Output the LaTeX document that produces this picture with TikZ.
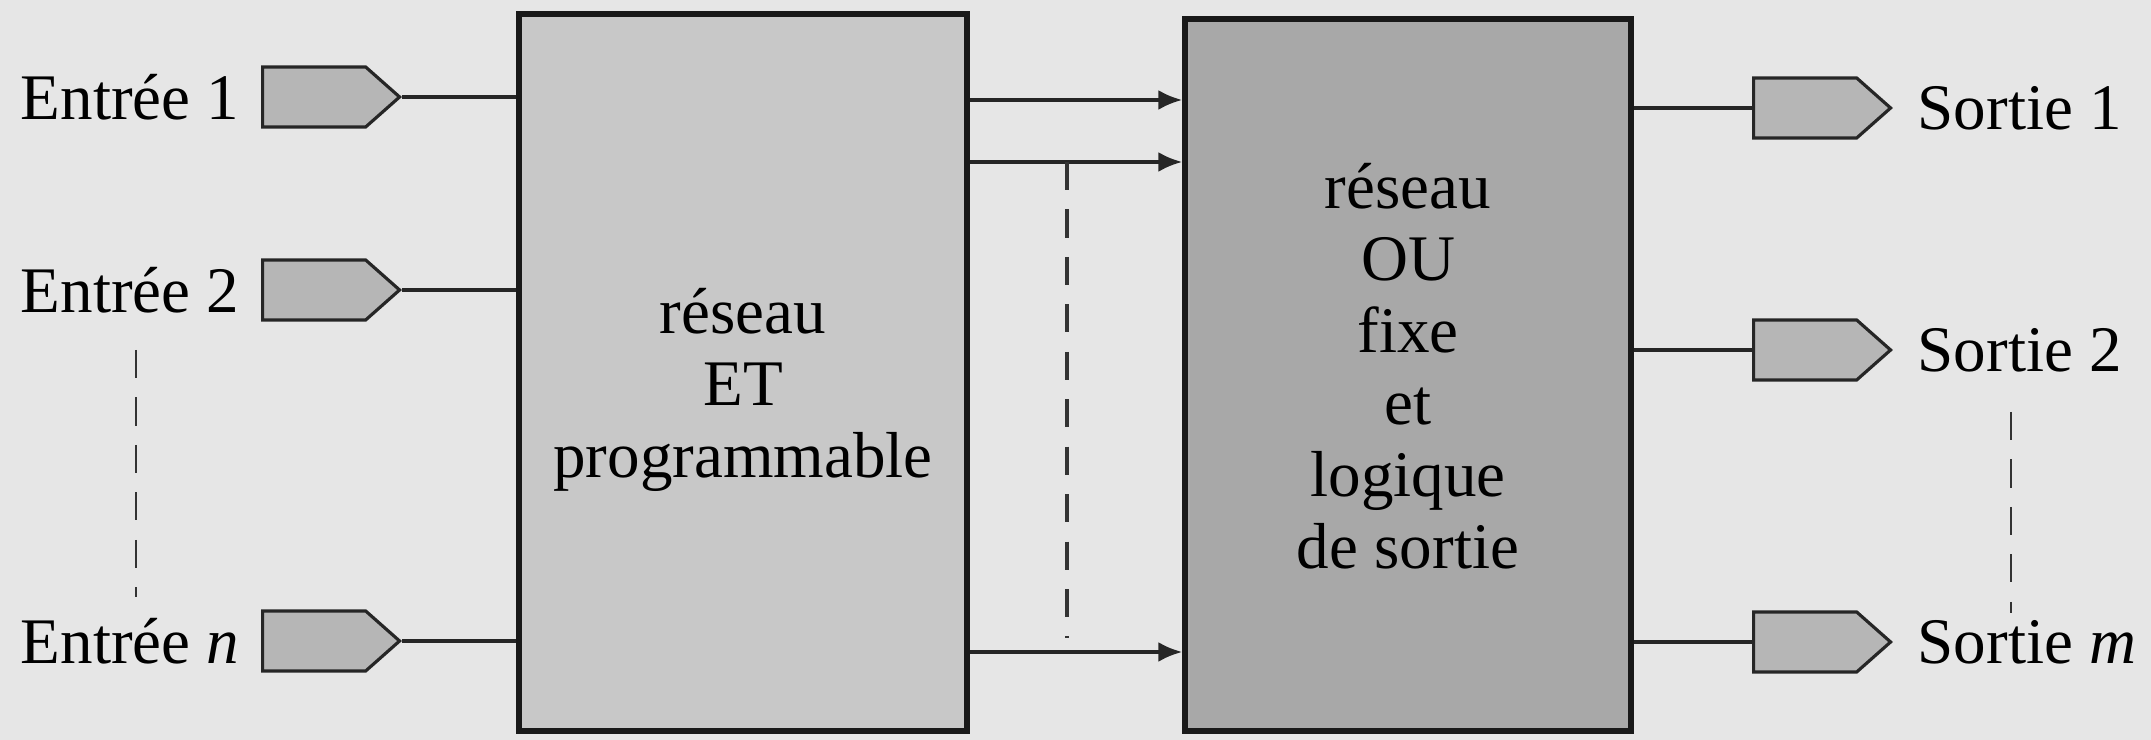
\documentclass[tikz,border=0pt]{standalone}
\usepackage{fontspec}
\setmainfont{Liberation Serif}
\usetikzlibrary{positioning,arrows.meta,shapes.symbols}
\definecolor{paper}{HTML}{E6E6E6}
\definecolor{andgray}{HTML}{C8C8C8}
\definecolor{orgray}{HTML}{A8A8A8}
\definecolor{pingray}{HTML}{B6B6B6}

\begin{document}
\begin{tikzpicture}[
    x=1cm, y=1cm,
    font=\fontsize{18.5}{20.5}\selectfont,
    block/.style={draw=black!90, line width=1.5pt, inner sep=0pt},
    pin/.style={signal, signal to=east, signal pointer angle=83, draw=black!85, line width=0.9pt, fill=pingray, minimum width=1.37cm, minimum height=0.6cm, inner sep=0pt, anchor=west},
    wire/.style={line width=1.1pt, draw=black!85},
    arrow/.style={wire, -{Latex[length=2.4mm,width=2mm]}},
    dots/.style={line width=0.8pt, draw=black!80, dash pattern=on 8pt off 5.5pt},
    tag/.style={inner sep=0pt}
  ]
    \fill[paper] (0,0) rectangle (21.51,7.40);
    \useasboundingbox (0,0) rectangle (21.51,7.40);

    % the two arrays
    \node[block, fill=andgray, minimum width=4.48cm, minimum height=7.17cm] (andbox) at (7.43,3.675) {};
    \node[block, fill=orgray, minimum width=4.46cm, minimum height=7.12cm] (orbox) at (14.08,3.65) {};
    \node[align=center] (andtxt) at (7.43,3.50) {réseau\\ET\\programmable};
    \node[align=center] (ortxt) at (14.08,3.74) {réseau\\OU\\fixe\\et\\logique\\de sortie};

    % inputs
    \node[pin] (in1) at (2.61,6.43) {};
    \node[pin] (in2) at (2.61,4.50) {};
    \node[pin] (inn) at (2.61,0.99) {};
    \node[tag, left=0.21cm of in1] (lin1) {Entrée 1};
    \node[tag, left=0.21cm of in2] (lin2) {Entrée 2};
    \node[tag, left=0.21cm of inn] (linn) {Entrée \textit{n}};

    % outputs
    \node[pin] (out1) at (17.52,6.32) {};
    \node[pin] (out2) at (17.52,3.90) {};
    \node[pin] (outm) at (17.52,0.98) {};
    \node[tag, right=0.24cm of out1] (lout1) {Sortie 1};
    \node[tag, right=0.24cm of out2] (lout2) {Sortie 2};
    \node[tag, right=0.24cm of outm] (loutm) {Sortie \textit{m}};

    \draw[wire] (in1.east) -- (andbox.west |- in1.east);
    \draw[wire] (in2.east) -- (andbox.west |- in2.east);
    \draw[wire] (inn.east) -- (andbox.west |- inn.east);
    \draw[wire] (orbox.east |- out1.west) -- (out1.west);
    \draw[wire] (orbox.east |- out2.west) -- (out2.west);
    \draw[wire] (orbox.east |- outm.west) -- (outm.west);

    % product terms
    \coordinate (r1) at (0,6.40);
    \coordinate (r2) at (0,5.78);
    \coordinate (r3) at (0,0.88);
    \draw[arrow] (andbox.east |- r1) -- (orbox.west |- r1);
    \draw[arrow] (andbox.east |- r2) -- (orbox.west |- r2);
    \draw[arrow] (andbox.east |- r3) -- (orbox.west |- r3);

    \coordinate (tap) at (10.67,5.78);
    \draw[dots, line width=0.9pt] (tap) -- ([yshift=0.14cm]tap |- r3);
    \coordinate (inskip) at (1.36,3.90);
    \draw[dots] (inskip) -- (inskip |- 0,1.43);
    \coordinate (outskip) at (20.11,3.28);
    \draw[dots] (outskip) -- (outskip |- 0,1.27);
  \end{tikzpicture}
\end{document}
